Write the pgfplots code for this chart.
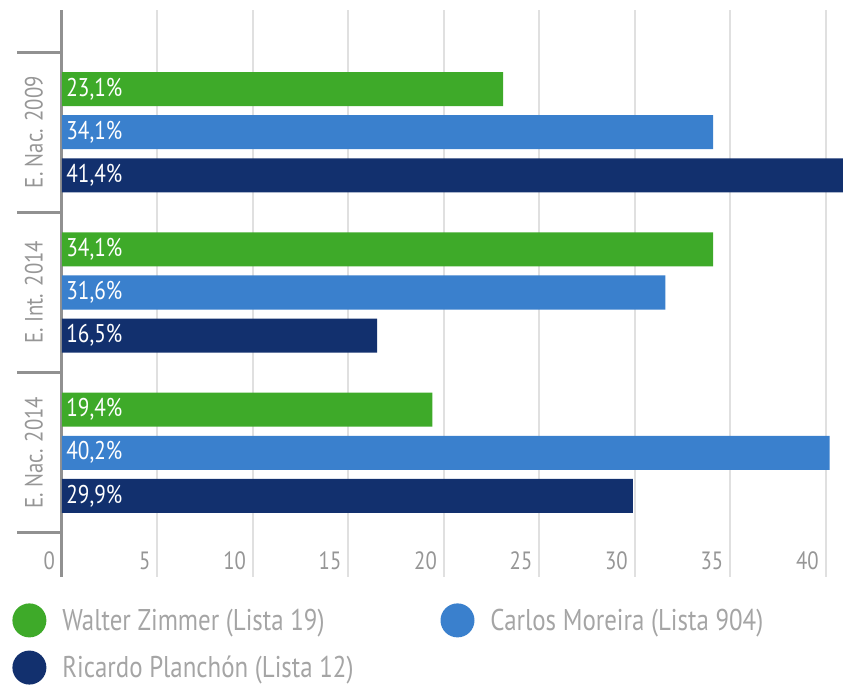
\documentclass[border=0pt]{standalone}
\usepackage{pgfplots}
\pgfplotsset{compat=1.18}
\usepackage{fontspec}
\setmainfont{PT Sans}[FakeStretch=0.83]
\definecolor{cgreen}{RGB}{62,170,41}
\definecolor{cblue}{RGB}{58,128,205}
\definecolor{cnavy}{RGB}{18,48,110}
\definecolor{tickgray}{RGB}{150,150,150}
\definecolor{leggray}{RGB}{165,165,165}
\definecolor{gridgray}{RGB}{224,224,224}
\definecolor{axisgray}{RGB}{145,145,145}
\pgfplotsset{dotlegend/.style={legend image code/.code={\fill[##1] (8.5pt,0.5pt) circle (8.5pt);\path (23pt,0pt);}}}
\begin{document}
\begin{tikzpicture}
\begin{axis}[
  scale only axis, width=390.5pt, height=283.5pt,
  xmin=0, xmax=40.9, ymin=-0.775, ymax=2.7625,
  axis y line*=left, axis x line*=bottom,
  x axis line style={draw=none},
  y axis line style={draw=axisgray, line width=1.5pt, -},
  xtick={0,5,...,40},
  xmajorgrids, major grid style={gridgray, line width=1pt},
  xtick style={draw=none},
  ytick={0,1,2}, yticklabels={E. Nac. 2014, E. Int. 2014, E. Nac. 2009},
  minor ytick={-0.5,0.5,1.5,2.5},
  minor y tick style={axisgray, line width=1.5pt},
  major tick length=0pt, minor tick length=22.5pt,
  tick align=outside,
  /pgf/number format/assume math mode=true,
  xticklabel style={anchor=south east, text=tickgray, font=\fontsize{12.5}{14}\selectfont},
  yticklabel style={rotate=90, anchor=south, text=tickgray, font=\fontsize{12.5}{14}\selectfont},
  yticklabel shift=6pt,
  legend columns=2,
  legend cell align=left,
  legend style={at={(rel axis cs:0,0)}, anchor=north west, xshift=-28pt, yshift=-11pt,
    draw=none, fill=none, font=\fontsize{15}{17}\selectfont, text=leggray,
    /tikz/every even column/.append style={column sep=41.5pt}, row sep=6.5pt},
]
\addplot[xbar, bar width=0.2125, bar shift=0.269, fill=cgreen, draw=none, dotlegend]
  coordinates {(23.1,2) (34.1,1) (19.4,0)};
\addlegendentry{Walter Zimmer (Lista 19)}
\addplot[xbar, bar width=0.2125, bar shift=0, fill=cblue, draw=none, dotlegend]
  coordinates {(34.1,2) (31.6,1) (40.2,0)};
\addlegendentry{Carlos Moreira (Lista 904)}
\addplot[xbar, bar width=0.2125, bar shift=-0.269, fill=cnavy, draw=none, dotlegend]
  coordinates {(41.4,2) (16.5,1) (29.9,0)};
\addlegendentry{Ricardo Planchón (Lista 12)}
\addplot[forget plot, draw=none, mark=none, nodes near coords, point meta=explicit symbolic,
  nodes near coords style={anchor=west, text=white, inner sep=2pt, font=\fontsize{12.8}{14}\selectfont}]
  coordinates {(0,2.269) [23{,}1\%] (0,2) [34{,}1\%] (0,1.731) [41{,}4\%]
               (0,1.269) [34{,}1\%] (0,1) [31{,}6\%] (0,0.731) [16{,}5\%]
               (0,0.269) [19{,}4\%] (0,0) [40{,}2\%] (0,-0.269) [29{,}9\%]};
\coordinate (bl) at (rel axis cs:0,0);
\coordinate (tr) at (rel axis cs:1,1);
\end{axis}
\pgfresetboundingbox
\path ([xshift=-31pt, yshift=-54.5pt]bl) rectangle ([yshift=5pt]tr);
\end{tikzpicture}
\end{document}
